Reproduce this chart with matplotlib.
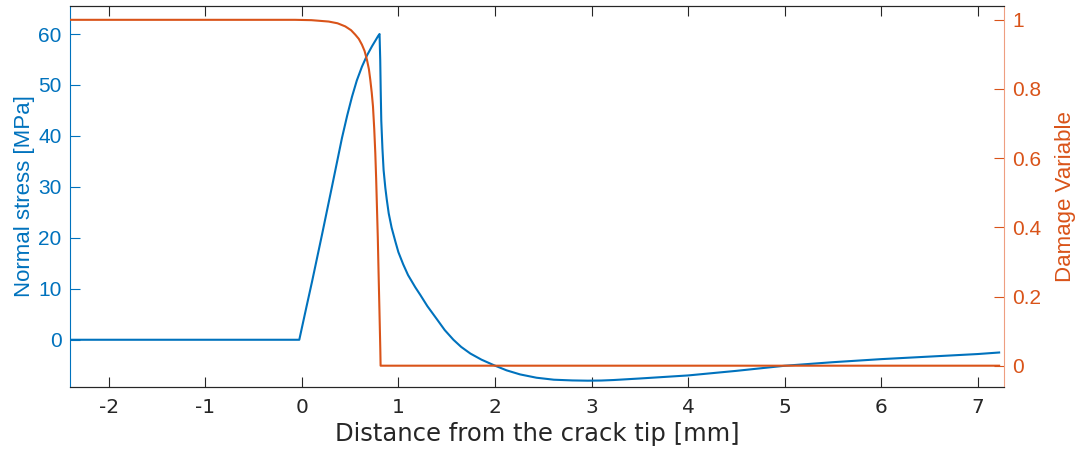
import numpy as np
import matplotlib
matplotlib.use('Agg')
import matplotlib.pyplot as plt

# normal stress along the crack line
x_stress = [-2.4, -0.026, 0.05, 0.106, 0.209, 0.313, 0.416, 0.47, 0.52, 0.57, 0.623, 0.675, 0.727,
            0.765, 0.79, 0.805, 0.812, 0.817, 0.823, 0.835, 0.847, 0.865, 0.88, 0.9, 0.93, 0.97,
            1.0, 1.05, 1.1, 1.175, 1.227, 1.3, 1.4, 1.48, 1.57, 1.65, 1.745, 1.86, 1.99, 2.12,
            2.26, 2.43, 2.61, 2.8, 2.96, 3.1, 3.23, 3.5, 4.0, 4.5, 5.0, 5.5, 6.0, 6.5, 7.0, 7.22]
stress = [0, 0, 6.6, 11.4, 20.6, 30.1, 39.6, 44.0, 47.7, 50.9, 53.6, 55.8, 57.6,
          58.8, 59.6, 60.0, 55.0, 49.0, 43.0, 37.5, 33.3, 29.8, 27.5, 24.8, 22.0, 19.2,
          17.2, 14.8, 12.7, 10.3, 8.8, 6.6, 4.0, 1.9, 0.0, -1.4, -2.7, -3.9, -5.0, -6.0,
          -6.8, -7.45, -7.84, -7.98, -8.03, -8.0, -7.9, -7.6, -7.0, -6.1, -5.1, -4.4, -3.8, -3.3, -2.8, -2.5]

# damage variable
x_damage = [-2.4, -0.07, 0.1, 0.278, 0.37, 0.45, 0.51, 0.554, 0.59, 0.623, 0.65, 0.675, 0.695,
            0.709, 0.724, 0.737, 0.75, 0.761, 0.77, 0.778, 0.787, 0.795, 0.804, 0.813, 0.816, 7.22]
damage = [1.0, 1.0, 0.999, 0.995, 0.99, 0.981, 0.97, 0.957, 0.945, 0.928, 0.91, 0.884, 0.857,
          0.827, 0.79, 0.75, 0.685, 0.615, 0.54, 0.46, 0.37, 0.268, 0.16, 0.046, 0.0, 0.0]

blue = '#0072BD'
orange = '#D95319'
grey = '#262626'

fig = plt.figure(figsize=(10.8, 4.5), dpi=100)
ax = fig.add_axes([0.0648, 0.14, 0.8648, 0.8467])
ax2 = ax.twinx()

ax.plot(x_stress, stress, color=blue, linewidth=1.5)
ax2.plot(x_damage, damage, color=orange, linewidth=1.5)

ax.set_xlim(-2.4, 7.27)
ax.set_ylim(-9.27, 65.5)
ax2.set_ylim(-0.0616, 1.040)

ax.set_xticks(np.arange(-2, 8, 1))
ax.set_xticklabels([str(v) for v in range(-2, 8)], fontfamily='DejaVu Sans', fontsize=14.5, color=grey)
ax.set_yticks(np.arange(0, 61, 10))
ax.set_yticklabels([str(v) for v in range(0, 61, 10)], fontfamily='Liberation Sans', fontsize=15, color=blue)
ax2.set_yticks([0, 0.2, 0.4, 0.6, 0.8, 1])
ax2.set_yticklabels(['0', '0.2', '0.4', '0.6', '0.8', '1'], fontfamily='Liberation Sans', fontsize=15, color=orange)

ax.tick_params(axis='x', direction='in', length=7, width=0.8, color=grey, top=True, pad=8)
ax.tick_params(axis='y', direction='in', length=7, width=0.8, color=blue, pad=6)
ax2.tick_params(axis='y', direction='in', length=7, width=0.8, color=orange, pad=6)

ax.set_xlabel('Distance from the crack tip [mm]', fontfamily='DejaVu Sans', fontsize=17.5, color=grey, labelpad=3.5)
ax.set_ylabel('Normal stress [MPa]', fontfamily='Liberation Sans', fontsize=16, color=blue, labelpad=2)
ax2.set_ylabel('Damage Variable', fontfamily='Liberation Sans', fontsize=16, color=orange, labelpad=10)

for a in (ax, ax2):
    a.spines['top'].set_color(grey)
    a.spines['bottom'].set_color(grey)
ax.spines['left'].set_color(blue)
ax.spines['right'].set_visible(False)
ax2.spines['left'].set_visible(False)
ax2.spines['right'].set_color('#EE9E80')

plt.savefig('out.png', dpi=100)
